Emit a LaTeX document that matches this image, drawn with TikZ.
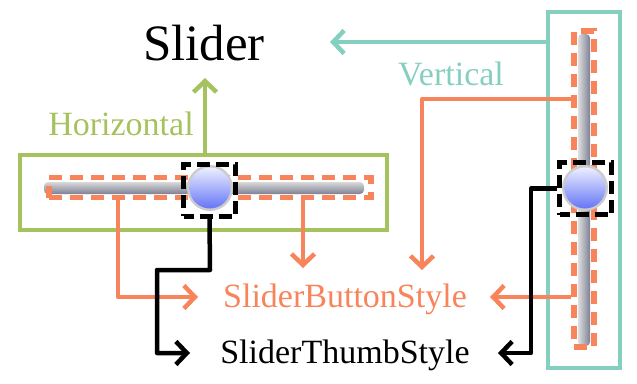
\documentclass[tikz,border=0pt]{standalone}
\usepackage{fontspec}
\setmainfont{Liberation Serif}
\usetikzlibrary{arrows.meta}
\definecolor{cgreen}{HTML}{A6C25F}
\definecolor{cteal}{HTML}{85CFC0}
\definecolor{corange}{HTML}{F7845A}
\definecolor{thumbtop}{HTML}{ECEEFF}
\definecolor{thumbbot}{HTML}{6676F6}
\definecolor{trackdark}{HTML}{7C8094}
\definecolor{tracklight}{HTML}{F0F0FF}
\begin{document}
\begin{tikzpicture}[x=1pt,y=-1pt,
  lbl/.style={font=\fontsize{34}{34}\selectfont, inner sep=0pt},
  outerbox/.style={draw, line width=4.5pt, inner sep=0pt, minimum width=#1},
  partbox/.style={draw=corange, line width=5.5pt, dash pattern=on 13pt off 8pt, inner sep=0pt},
  thumbbox/.style={draw=black, line width=5pt, dash pattern=on 13pt off 6pt, dash phase=3pt, inner sep=0pt, minimum width=52pt, minimum height=52pt},
  conn/.style={line width=4.5pt, line join=round, -{Straight Barb[length=11pt,width=23pt,line width=4.5pt]}},
]
\useasboundingbox (0,0) rectangle (637,383);

% texts
\node[font=\fontsize{51}{51}\selectfont, inner sep=0pt, anchor=base] (slider) at (204,60) {Slider};
\node[lbl, text=cgreen, anchor=base] (hlabel) at (121,135) {Horizontal};
\node[lbl, text=cteal, anchor=base] (vlabel) at (451,85) {Vertical};
\node[lbl, text=corange, anchor=base] (btn) at (345,307) {SliderButtonStyle};
\node[lbl, text=black, anchor=base] (thumbst) at (345,363) {SliderThumbStyle};

% outer boxes
\node[outerbox=367pt, draw=cgreen, minimum height=75pt] (hbox) at (203.5,192.5) {};
\node[outerbox=72pt, draw=cteal, minimum height=356pt] (vbox) at (584,190) {};

% horizontal slider track
\shade[top color=gray!30, middle color=tracklight, bottom color=trackdark, rounded corners=4pt] (44,182) rectangle (364,194);
% vertical slider track
\shade[left color=gray!25, middle color=tracklight, right color=trackdark, rounded corners=4pt] (578,34) rectangle (590,346);

% dashed part boxes
\node[partbox, minimum width=322pt, minimum height=20pt] (hdash) at (210,187.5) {};
\node[partbox, minimum width=20pt, minimum height=316pt] (vdash) at (584,189) {};

% thumbs
\fill[gray!40] (210,188) circle (23);
\shade[top color=thumbtop, bottom color=thumbbot] (210,188) circle (20.5);
\fill[gray!40] (585,188) circle (23);
\shade[top color=thumbtop, bottom color=thumbbot] (585,188) circle (20.5);

\node[thumbbox] (hthumb) at (209.5,190) {};
\node[thumbbox] (vthumb) at (585.5,188.5) {};

% tip coordinates
\coordinate (sliderbot) at (205,78);
\coordinate (sliderright) at (330,42);
\coordinate (btntop1) at (303,268);
\coordinate (btntop2) at (422,270);
\coordinate (btnleft) at (198,297);
\coordinate (btnright) at (490,297);
\coordinate (thleft) at (190,353);
\coordinate (thright) at (498,353);

% connectors
\draw[conn, draw=cgreen] (hbox.north -| sliderbot) -- (sliderbot);
\draw[conn, draw=cteal] (vbox.west |- sliderright) -- (sliderright);
\draw[conn, draw=corange] (vdash.west |- 0,99) -| (btntop2);
\draw[conn, draw=corange] (vdash.west |- btnright) -- (btnright);
\draw[conn, draw=corange] (hdash.south -| 118,0) |- (btnleft);
\draw[conn, draw=corange] (hdash.south -| btntop1) -- (btntop1);
\draw[conn, draw=black] (hthumb.south) -- (210,270) -| (157,320) |- (thleft);
\draw[conn, draw=black] (vthumb.west) -| (531,320) |- (thright);
\end{tikzpicture}
\end{document}
